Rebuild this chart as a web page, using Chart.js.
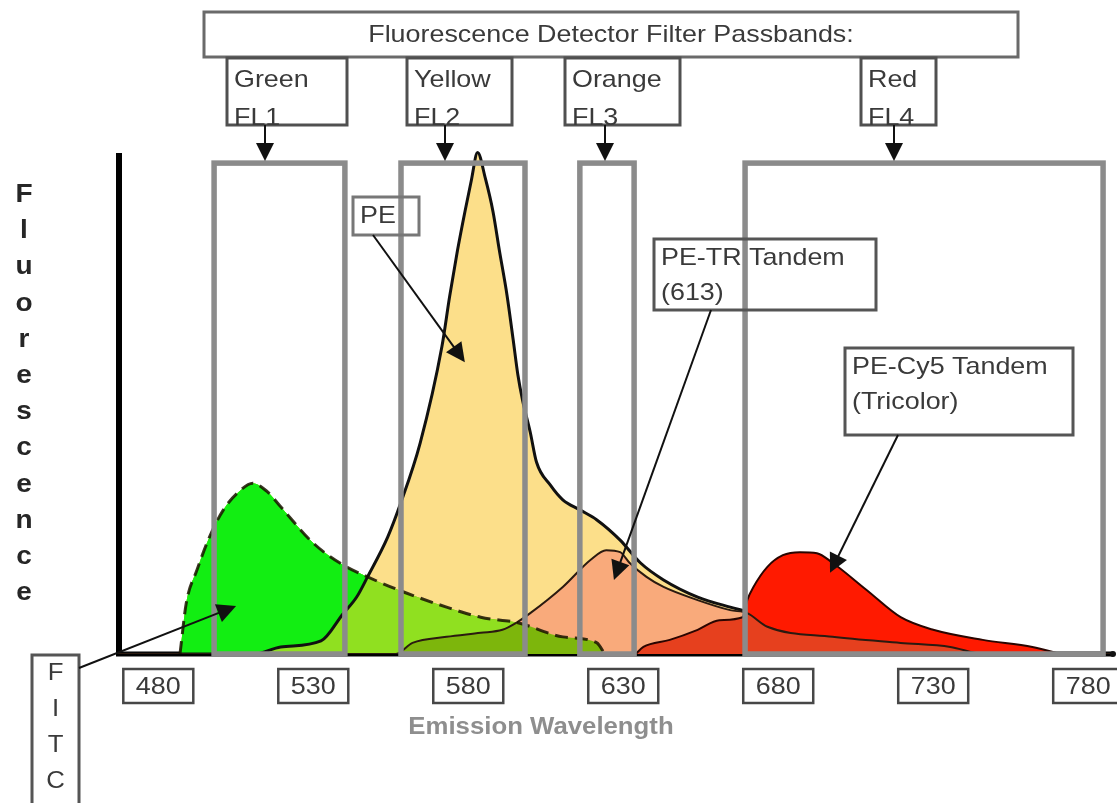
<!DOCTYPE html>
<html>
<head>
<meta charset="utf-8">
<title>Fluorescence Detector Filter Passbands</title>
<script src="https://cdn.jsdelivr.net/npm/chart.js@4.4.1/dist/chart.umd.min.js"></script>
<style>
  html, body { margin: 0; padding: 0; background: #fff; }
  .wrap { position: relative; width: 1117px; height: 803px; }
</style>
</head>
<body>
<div class="wrap"><canvas id="spectra"></canvas></div>
<script>
// emission spectra, relative fluorescence (0-100) against wavelength (nm)
const fitcNm = [487, 489, 492.5, 496.5, 501, 505.5, 510.5, 515, 519.5, 530, 539.5, 547.5, 560, 573, 584, 596, 610.5, 621.5, 624];
const fitcVal = [0, 10, 16.7, 23.2, 28.6, 31.9, 33.9, 32.3, 29.2, 22, 17.7, 15.3, 12.1, 9.3, 7.3, 6.2, 3.4, 2.2, 0];

const peNm = [467, 511, 519.5, 532.5, 539.5, 544, 547.5, 554, 558, 564.5, 571.5, 574, 576.5, 579, 581, 583, 585.5, 588, 590, 592.5,
  594.5, 596, 597.5, 600, 602, 606.5, 610.5, 616, 621.5, 629, 635.5, 643, 654, 664.5, 669.5, 690, 720, 750, 770, 788];
const peVal = [0, 0, 1.4, 2.6, 7.9, 11.3, 15.3, 23.2, 29.6, 41.9, 61, 71, 80, 88, 94, 99.5, 94.4, 87.7, 80.2, 71.2,
  62.3, 55.4, 50.4, 44, 38.1, 33.5, 30.6, 28.6, 26.6, 22.6, 18.1, 14.7, 11.3, 9.3, 8.5, 5, 2.5, 1, 0, 0];

const petrNm = [467, 556.5, 562, 573, 584, 591, 595.5, 600, 610.5, 619.5, 624.5, 629, 632, 637.5, 643, 654, 664.5, 670, 676.5, 697.5, 719.5, 735.5, 746.5, 788];
const petrVal = [0, 0, 2.2, 3.4, 4.2, 4.8, 6.2, 8.1, 13.3, 18.7, 20.6, 20.2, 18.1, 15.3, 13.3, 10.7, 8.7, 8.1, 5.4, 3.4, 2.2, 1.4, 0, 0];

const cy5Nm = [634, 636.5, 645, 654, 661, 668.5, 670, 672, 676.5, 681.5, 687, 692.5, 697.5, 708.5, 719.5, 730, 746, 762, 771];
const cy5Val = [0, 1.4, 2.8, 4.8, 6.7, 7.3, 10.7, 13.3, 17.3, 19.6, 20.2, 20, 18.1, 12.7, 7.3, 4.8, 2.8, 1.4, 0];

const tickNm = [480, 530, 580, 630, 680, 730, 780];

// detector filter passbands
const filterColour = ['Green', 'Yellow', 'Orange', 'Red'];
const filterName = ['FL1', 'FL2', 'FL3', 'FL4'];
const filterFrom = [498, 558.3, 616, 669.3];
const filterTo = [540.2, 598.3, 633.5, 784.8];
const filterTop = 97.4;

const FF = '"Liberation Sans", Arial, sans-serif';
const INK = '#3a3a3a';

function pts(nm, val) {
  return nm.map((x, i) => ({ x: x, y: val[i] }));
}

function say(ctx, txt, x, y, font, colour, align, base) {
  ctx.save();
  ctx.font = font;
  ctx.fillStyle = colour;
  ctx.textAlign = align || 'left';
  ctx.textBaseline = base || 'middle';
  ctx.translate(x, y);
  ctx.scale(1.12, 1);   // lettering in the figure is a little wide
  ctx.fillText(txt, 0, 0);
  ctx.restore();
}

function box(ctx, x, y, w, h, colour, lw) {
  ctx.save();
  ctx.strokeStyle = colour;
  ctx.lineWidth = lw;
  ctx.strokeRect(x, y, w, h);
  ctx.restore();
}

function arrow(ctx, x0, y0, x1, y1, head, lw) {
  const a = Math.atan2(y1 - y0, x1 - x0);
  const c = Math.cos(a), s = Math.sin(a);
  ctx.save();
  ctx.strokeStyle = '#111';
  ctx.fillStyle = '#111';
  ctx.lineWidth = lw;
  ctx.beginPath();
  ctx.moveTo(x0, y0);
  ctx.lineTo(x1 - head * 0.8 * c, y1 - head * 0.8 * s);
  ctx.stroke();
  ctx.beginPath();
  ctx.moveTo(x1, y1);
  ctx.lineTo(x1 - head * c + head * 0.5 * s, y1 - head * s - head * 0.5 * c);
  ctx.lineTo(x1 - head * c - head * 0.5 * s, y1 - head * s + head * 0.5 * c);
  ctx.closePath();
  ctx.fill();
  ctx.restore();
}

// label boxes above the passbands (pixels) and where their arrows drop
const passLabels = [
  { l: 227, r: 347, ax: 265 },
  { l: 407, r: 512, ax: 445 },
  { l: 565, r: 680, ax: 605 },
  { l: 861, r: 936, ax: 894 }
];

// dye callouts: box in pixels, arrow tip in data units
const dyeNotes = [
  { lines: ['PE'], box: [353, 197, 66, 38], from: [373, 235], tip: [578.9, 57.9], edge: '#777' },
  { lines: ['PE-TR Tandem', '(613)'], box: [654, 239, 222, 71], from: [711, 310], tip: [627, 14.7], edge: '#555' },
  { lines: ['PE-Cy5 Tandem', '(Tricolor)'], box: [845, 348, 228, 87], from: [898, 435], tip: [696.7, 16.1], edge: '#555' }
];

const decor = {
  id: 'decor',
  beforeDatasetsDraw(chart) {
    const { ctx, chartArea: a } = chart;
    ctx.save();
    ctx.strokeStyle = '#000';
    ctx.lineWidth = 6;
    ctx.beginPath();
    ctx.moveTo(a.left + 1, a.top + 3);
    ctx.lineTo(a.left + 1, a.bottom + 2);
    ctx.stroke();
    ctx.lineWidth = 5;
    ctx.beginPath();
    ctx.moveTo(a.left - 2, a.bottom);
    ctx.lineTo(a.right, a.bottom);
    ctx.stroke();
    ctx.restore();
  },
  afterDatasetsDraw(chart) {
    const { ctx, chartArea: a } = chart;
    const x = chart.scales.x, y = chart.scales.y;
    const yTop = y.getPixelForValue(filterTop);
    const yBot = y.getPixelForValue(0);

    // passband rectangles
    ctx.save();
    ctx.strokeStyle = '#8b8b8b';
    ctx.lineWidth = 5.5;
    filterFrom.forEach((f, i) => {
      const x1 = x.getPixelForValue(f), x2 = x.getPixelForValue(filterTo[i]);
      ctx.strokeRect(x1, yTop, x2 - x1, yBot - yTop);
    });
    ctx.restore();
    ctx.fillStyle = '#111';
    ctx.beginPath();
    ctx.arc(a.right, a.bottom, 3, 0, Math.PI * 2);
    ctx.fill();

    // heading
    box(ctx, 204, 12, 814, 45, '#6a6a6a', 3);
    say(ctx, 'Fluorescence Detector Filter Passbands:', 611, 35, '24px ' + FF, INK, 'center');

    // passband labels
    passLabels.forEach((p, i) => {
      box(ctx, p.l, 58, p.r - p.l, 67, '#505050', 3);
      say(ctx, filterColour[i], p.l + 7, 80, '24px ' + FF, INK);
      say(ctx, filterName[i], p.l + 7, 118, '24px ' + FF, INK);
      arrow(ctx, p.ax, 125, p.ax, yTop - 2, 18, 2);
    });

    // dye callouts
    dyeNotes.forEach(n => {
      const b = n.box;
      box(ctx, b[0], b[1], b[2], b[3], n.edge, 3);
      n.lines.forEach((t, k) => say(ctx, t, b[0] + 7, b[1] + 19 + k * 35, '24px ' + FF, INK));
      arrow(ctx, n.from[0], n.from[1], x.getPixelForValue(n.tip[0]), y.getPixelForValue(n.tip[1]), 19, 2);
    });

    // FITC callout, letters stacked
    box(ctx, 32, 655, 47, 160, '#555', 3);
    ['F', 'I', 'T', 'C'].forEach((c, k) => say(ctx, c, 55.5, 674 + k * 36, '23px ' + FF, INK, 'center'));
    arrow(ctx, 79, 668, x.getPixelForValue(505.1), y.getPixelForValue(9.5), 19, 2);

    // boxed wavelength ticks
    tickNm.forEach(t => {
      const cx = x.getPixelForValue(t);
      ctx.save();
      ctx.fillStyle = '#fff';
      ctx.fillRect(cx - 35, 669, 70, 34);
      ctx.restore();
      box(ctx, cx - 35, 669, 70, 34, '#474747', 2.5);
      say(ctx, String(t), cx, 687, '24px ' + FF, INK, 'center');
    });

    // axis titles
    say(ctx, 'Emission Wavelength', 541, 728, 'bold 23px ' + FF, '#8e8e8e', 'center');
    'Fluorescence'.split('').forEach((c, k) =>
      say(ctx, c, 24, 202 + k * 36.2, 'bold 25px ' + FF, '#262626', 'center', 'alphabetic'));
  }
};

// fills are stacked from the bottom up; overlaps are coloured via fills between curves
const layers = [
  { label: 'PE', data: pts(peNm, peVal), fill: 'origin', backgroundColor: '#fcdf8a' },
  { label: 'PE-TR', data: pts(petrNm, petrVal), fill: 'origin', backgroundColor: '#f9aa7b' },
  { label: 'FITC', data: pts(fitcNm, fitcVal), fill: 'origin', backgroundColor: '#7db60c' },
  { label: 'FITC above PE-TR', data: pts(fitcNm, fitcVal), fill: { target: 1, above: '#90e020', below: 'transparent' }, backgroundColor: '#90e020' },
  { label: 'FITC above PE', data: pts(fitcNm, fitcVal), fill: { target: 0, above: '#12ee12', below: 'transparent' }, backgroundColor: '#12ee12' },
  { label: 'PE line', data: pts(peNm, peVal), fill: false, borderColor: '#111', borderWidth: 3 },
  { label: 'PE-Cy5', data: pts(cy5Nm, cy5Val), fill: 'origin', backgroundColor: '#e6401e' },
  { label: 'PE-Cy5 above PE-TR', data: pts(cy5Nm, cy5Val), fill: { target: 1, above: '#ff1a00', below: 'transparent' }, backgroundColor: '#ff1a00' },
  { label: 'PE-Cy5 line', data: pts(cy5Nm, cy5Val), fill: false, borderColor: '#2a0500', borderWidth: 2 },
  { label: 'PE-TR line', data: pts(petrNm, petrVal), fill: false, borderColor: '#2b1a10', borderWidth: 2 },
  { label: 'FITC line', data: pts(fitcNm, fitcVal), fill: false, borderColor: 'rgba(25,18,0,0.85)', borderWidth: 3, borderDash: [13, 7] }
];

const datasets = layers.map((d, i) => Object.assign({
  order: layers.length - i,
  pointRadius: 0,
  borderWidth: 0,
  borderColor: 'transparent',
  cubicInterpolationMode: 'monotone'
}, d));

new Chart(document.getElementById('spectra'), {
  type: 'line',
  data: { datasets: datasets },
  options: {
    responsive: true,
    maintainAspectRatio: false,
    animation: false,
    events: [],
    layout: { padding: { left: 118, right: 4, top: 150, bottom: 149 } },
    plugins: { legend: { display: false }, tooltip: { enabled: false } },
    scales: {
      x: { type: 'linear', min: 467, max: 788, display: false },
      y: { min: 0, max: 100, display: false }
    }
  },
  plugins: [decor]
});
</script>
</body>
</html>
